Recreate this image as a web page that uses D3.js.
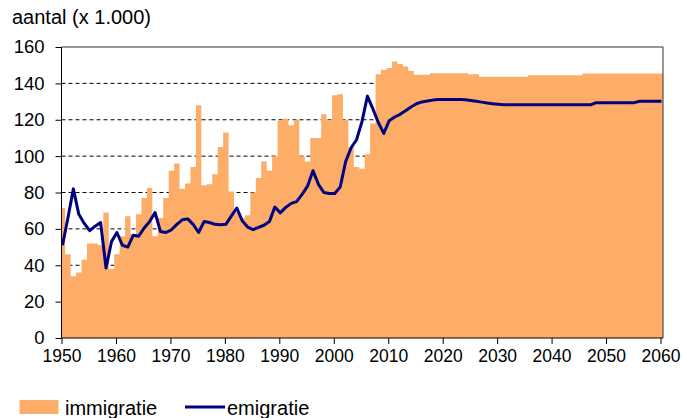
<!DOCTYPE html>
<html>
<head>
<meta charset="utf-8">
<script src="https://d3js.org/d3.v7.min.js"></script>
<style>
  body { margin: 0; background: #fff; }
  svg { display: block; font-family: "Liberation Sans", Arial, sans-serif; }
  .axis path, .axis line { stroke: #000; }
  .axis text { fill: #000; }
</style>
</head>
<body>
<div id="chart"></div>
<script>
// Migration chart (immigratie / emigratie), x 1.000

const firstYear = 1950
const yTicks = [0, 20, 40, 60, 80, 100, 120, 140, 160]
const xTicks = [1950, 1960, 1970, 1980, 1990, 2000, 2010, 2020, 2030, 2040, 2050, 2060]

// immigratie, 1950..2060
const immigratie = [
  71.5, 46, 34, 36, 43, 52, 52, 51, 69, 38,
  46, 56, 67, 57, 68, 77, 82.5, 56, 66, 77,
  92, 96, 82, 85, 94, 128, 84, 84.5, 90, 105,
  113, 80.5, 69, 66, 67.5, 80, 88, 97, 92, 100,
  119.5, 120.5, 117, 120, 100, 97, 110, 110, 123, 120,
  133.5, 134, 120, 105, 94, 93, 101, 118, 145, 147.5,
  148.5, 152, 150.6, 149.3, 146.8, 144.8, 144.8, 144.8, 145.6, 145.6,
  145.6, 145.6, 145.6, 145.6, 145.6, 145, 145, 143.7, 143.7, 143.7,
  143.7, 143.7, 143.7, 143.7, 143.7, 143.7, 144.4, 144.4, 144.4, 144.4,
  144.4, 144.4, 144.4, 144.4, 144.4, 144.4, 145.4, 145.4, 145.4, 145.4,
  145.4, 145.4, 145.4, 145.4, 145.4, 145.4, 145.4, 145.4, 145.4, 145.4,
  145.4
]

// emigratie, 1950..2060
const emigratie = [
  51, 66, 82, 68, 63, 59, 61.5, 63.5, 38.5, 53,
  58, 51, 50, 56.5, 56, 60.5, 64, 69, 58.5, 58,
  59.5, 62.5, 65, 65.5, 62.5, 58, 64, 63.5, 62.5, 62.3,
  62.5, 67, 71.5, 64.5, 61, 59.6, 60.8, 62, 64, 72,
  68.8, 71.8, 74, 75, 79, 83.5, 92, 84.5, 80, 79.5,
  79.5, 83, 97, 104.6, 109, 119, 133, 126, 118.5, 112.5,
  119.5, 121.5, 123, 125, 127, 128.8, 129.8, 130.3, 130.8, 131.1,
  131.2, 131.2, 131.2, 131.1, 131, 130.6, 130.2, 129.7, 129.2, 128.8,
  128.5, 128.2, 128.2, 128.2, 128.2, 128.2, 128.2, 128.2, 128.2, 128.2,
  128.2, 128.2, 128.2, 128.2, 128.2, 128.2, 128.2, 128.2, 129.4, 129.4,
  129.4, 129.4, 129.4, 129.4, 129.4, 129.4, 130.2, 130.2, 130.2, 130.2,
  130.2
]

const colImm = '#fdad68',
      colEmi = '#000080'

const width = 683,
      height = 418

let plot = { left: 61.5, right: 663, top: 47, bottom: 338 }

let svg = d3.select('#chart').append('svg')
    .attr('width', width)
    .attr('height', height)

let xScale = d3.scaleLinear()
    .domain([1950, 2060])
    .range([plot.left, 660.5])

let yScale = d3.scaleLinear()
    .domain([0, 160])
    .range([plot.bottom, plot.top])

// data sits a bit right of the year ticks
const shift = 0.18
let xd = yr => xScale(yr + shift)

// Clip for the columns
svg.append('clipPath')
  .attr('id', 'plotclip')
  .append('rect')
  .attr('x', plot.left)
  .attr('y', plot.top)
  .attr('width', plot.right - plot.left)
  .attr('height', plot.bottom - plot.top)

// Gridlines
svg.append('g')
  .selectAll('line')
  .data(yTicks.filter(d => d > 0 && d < 160))
  .enter().append('line')
  .attr('x1', plot.left)
  .attr('x2', plot.right)
  .attr('y1', d => yScale(d))
  .attr('y2', d => yScale(d))
  .attr('stroke', '#000')
  .attr('stroke-width', 1)
  .attr('stroke-dasharray', '4,3')

// Immigratie columns as one stepped area
let steps = immigratie.map((v, i) => ({ yr: firstYear + i - 0.5, v: v }))
steps.push({ yr: firstYear + immigratie.length - 0.5, v: immigratie[immigratie.length - 1] })

let area = d3.area()
    .x(d => xd(d.yr))
    .y0(yScale(0))
    .y1(d => yScale(d.v))
    .curve(d3.curveStepAfter)

svg.append('path')
  .datum(steps)
  .attr('clip-path', 'url(#plotclip)')
  .attr('fill', colImm)
  .attr('d', area)

// Emigratie line
let line = d3.line()
    .x((d, i) => xd(firstYear + i))
    .y(d => yScale(d))

svg.append('path')
  .datum(emigratie)
  .attr('fill', 'none')
  .attr('stroke', colEmi)
  .attr('stroke-width', 3)
  .attr('stroke-linejoin', 'round')
  .attr('d', line)

// Plot frame (top and right)
svg.append('line')
  .attr('x1', plot.left).attr('x2', plot.right)
  .attr('y1', plot.top).attr('y2', plot.top)
  .attr('stroke', '#333')
svg.append('line')
  .attr('x1', plot.right).attr('x2', plot.right)
  .attr('y1', plot.top).attr('y2', plot.bottom)
  .attr('stroke', '#333')

// Axes
let yAxis = d3.axisLeft(yScale)
    .tickValues(yTicks)
    .tickSize(6)
    .tickSizeOuter(0)
    .tickPadding(11)

svg.append('g')
  .attr('class', 'axis axis-y')
  .attr('transform', 'translate(' + plot.left + ',0)')
  .call(yAxis)
  .call(g => g.selectAll('text').style('font-size', '18.5px'))
  .call(g => g.select('.domain').attr('d', 'M0,' + plot.top + 'V' + plot.bottom))

let xAxis = d3.axisBottom(xScale)
    .tickValues(xTicks)
    .tickFormat(d3.format('d'))
    .tickSize(6)
    .tickSizeOuter(0)
    .tickPadding(6)

svg.append('g')
  .attr('class', 'axis axis-x')
  .attr('transform', 'translate(0,' + plot.bottom + ')')
  .call(xAxis)
  .call(g => g.selectAll('text').style('font-size', '17.5px'))
  .call(g => g.select('.domain').attr('d', 'M' + plot.left + ',0H' + plot.right))

// Title
svg.append('text')
  .attr('x', 12)
  .attr('y', 24)
  .style('font-size', '20px')
  .text('aantal (x 1.000)')

// Legend
let legend = svg.append('g').attr('class', 'legend')

legend.append('rect')
  .attr('x', 19.5)
  .attr('y', 400)
  .attr('width', 39)
  .attr('height', 14)
  .attr('fill', colImm)

legend.append('text')
  .attr('x', 65)
  .attr('y', 415)
  .style('font-size', '20px')
  .text('immigratie')

legend.append('line')
  .attr('x1', 185)
  .attr('x2', 225)
  .attr('y1', 407)
  .attr('y2', 407)
  .attr('stroke', colEmi)
  .attr('stroke-width', 3)

legend.append('text')
  .attr('x', 227)
  .attr('y', 415)
  .style('font-size', '20px')
  .text('emigratie')
</script>
</body>
</html>
